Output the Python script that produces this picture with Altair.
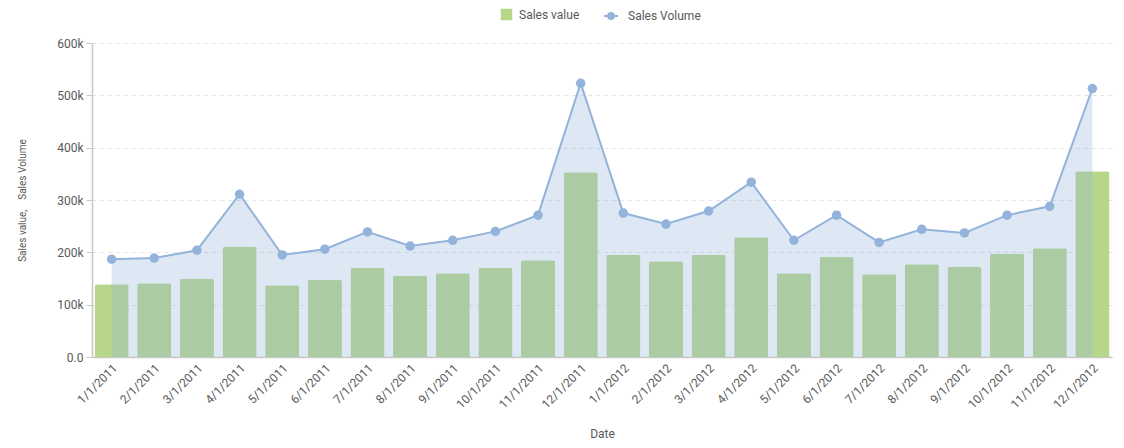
import altair as alt
import pandas as pd

dates = ["1/1/2011", "2/1/2011", "3/1/2011", "4/1/2011", "5/1/2011", "6/1/2011",
         "7/1/2011", "8/1/2011", "9/1/2011", "10/1/2011", "11/1/2011", "12/1/2011",
         "1/1/2012", "2/1/2012", "3/1/2012", "4/1/2012", "5/1/2012", "6/1/2012",
         "7/1/2012", "8/1/2012", "9/1/2012", "10/1/2012", "11/1/2012", "12/1/2012"]
sales_value = [139000, 141000, 149000, 210000, 137000, 147000, 170000, 155000,
               160000, 170000, 185000, 353000, 195000, 183000, 195000, 229000,
               160000, 191000, 158000, 177000, 172000, 197000, 208000, 355000]
sales_volume = [187000, 189000, 204000, 311000, 195000, 206000, 239000, 212000,
                223000, 240000, 271000, 523000, 275000, 254000, 279000, 334000,
                223000, 271000, 219000, 244000, 237000, 271000, 288000, 513000]
series_names = ["Sales value", "Sales Volume"]
y_ticks = [0, 100000, 200000, 300000, 400000, 500000, 600000]

GREEN = "#b7d68a"
BLUE = "#93b3da"
FONT = "Roboto"
TXT = "#595959"

df = pd.DataFrame({"Date": dates, "value": sales_value, "volume": sales_volume})
df["s1"] = series_names[0]
df["s2"] = series_names[1]

x_enc = alt.X(
    "Date:N", sort=None,
    scale=alt.Scale(paddingInner=0.2, paddingOuter=0.06),
    axis=alt.Axis(title="Date", labelAngle=-45, ticks=False, domainColor="#c8c8c8",
                  domainWidth=1.5, labelFontSize=12, labelColor=TXT, labelFont=FONT,
                  titleFont=FONT, titleFontSize=12, titleColor=TXT, titleFontWeight="normal",
                  titleY=76, titleBaseline="middle", labelPadding=5),
)
y_scale = alt.Scale(domain=[0, 600000], nice=False)

line_symbol = "M-1,0L1,0M-0.42,0A0.42,0.42,0,1,0,0.42,0A0.42,0.42,0,1,0,-0.42,0Z"

legend_common = dict(title=None, orient="none", direction="horizontal",
                     labelFontSize=12, labelColor=TXT, labelFont=FONT)

y_title = "Sales value,\u00a0\u00a0\u00a0\u00a0Sales Volume"

bars = alt.Chart(df).mark_bar(cornerRadiusTopLeft=2, cornerRadiusTopRight=2).encode(
    x=x_enc,
    y=alt.Y("value:Q", scale=y_scale,
            axis=alt.Axis(title=y_title, values=y_ticks,
                          labelExpr="datum.value == 0 ? '0.0' : (datum.value / 1000) + 'k'",
                          grid=True, gridDash=[4, 4], gridColor="#e3e3e3",
                          domainColor="#c8c8c8", domainWidth=1.5, tickColor="#c8c8c8",
                          tickSize=6, labelFontSize=12, labelColor=TXT, labelFont=FONT,
                          labelPadding=3,
                          titleFont=FONT, titleFontSize=10, titleColor=TXT,
                          titleFontWeight="normal", titleX=-70, titleY=157,
                          titleBaseline="middle")),
    color=alt.Color(
        "s1:N",
        scale=alt.Scale(domain=[series_names[0]], range=[GREEN]),
        legend=alt.Legend(symbolType="square", symbolSize=132, symbolOpacity=1,
                          labelOffset=6, legendX=408, legendY=-35, **legend_common)),
)

area = alt.Chart(df).mark_area(color=BLUE, opacity=0.3).encode(
    x=x_enc,
    y=alt.Y("volume:Q", scale=y_scale),
)

line = alt.Chart(df).mark_line(strokeWidth=2).encode(
    x=x_enc,
    y=alt.Y("volume:Q", scale=y_scale),
    stroke=alt.Stroke(
        "s2:N",
        scale=alt.Scale(domain=[series_names[1]], range=[BLUE]),
        legend=alt.Legend(symbolType=line_symbol, symbolSize=196, symbolStrokeWidth=2,
                          symbolFillColor=BLUE, symbolStrokeColor=BLUE, symbolOpacity=1,
                          labelOffset=9, legendX=511, legendY=-35, **legend_common)),
)

points = alt.Chart(df).mark_circle(size=90, opacity=1, color=BLUE).encode(
    x=x_enc,
    y=alt.Y("volume:Q", scale=y_scale),
)

chart = alt.layer(bars, area, line, points).resolve_legend(
    color="independent", stroke="independent"
).properties(
    width=1020, height=314,
    autosize=alt.AutoSizeParams(type="none"),
    padding={"left": 84, "top": 35, "right": 4, "bottom": 83},
).configure(font=FONT, view=alt.ViewConfig(stroke=None))

chart.save("out.html", embed_options={"renderer": "svg", "actions": False})
